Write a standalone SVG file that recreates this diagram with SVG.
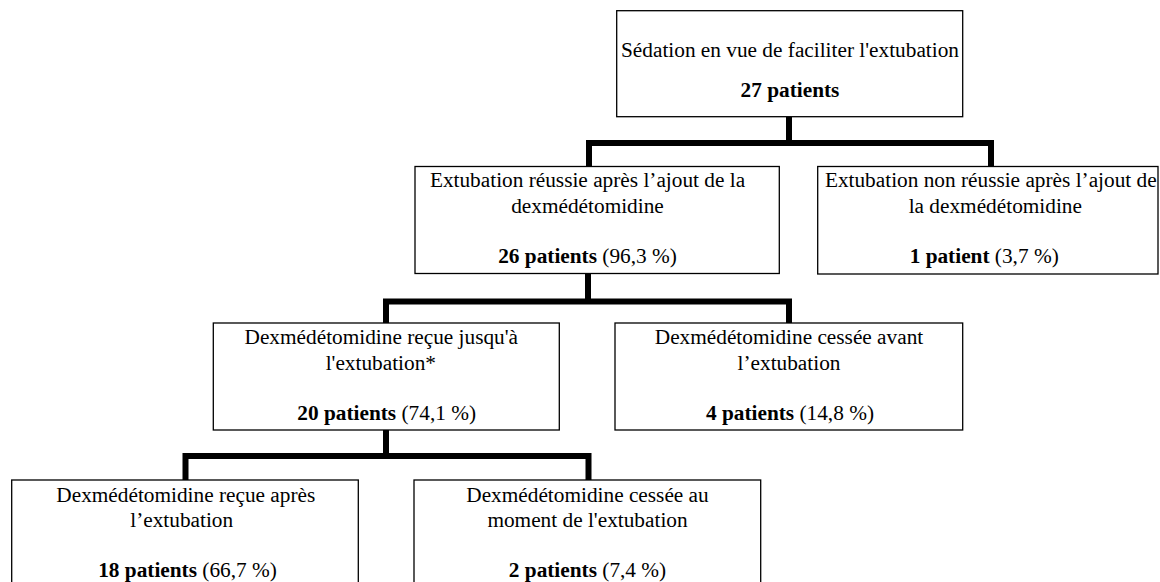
<svg xmlns="http://www.w3.org/2000/svg" width="1160" height="582" viewBox="0 0 1160 582">
<style>
.box{fill:#fff;stroke:#000;stroke-width:1.3}
.conn{fill:none;stroke:#000;stroke-width:6;stroke-linejoin:miter;stroke-linecap:butt}
text{font-family:"Liberation Serif","Times New Roman",serif;font-size:21.3px;fill:#000;text-anchor:middle}
.b{font-weight:bold}
</style>
<rect width="1160" height="582" fill="#fff"/>
<g id="connectors">
<path class="conn" d="M789,117 V143 M589,166 V143 H991 V166"/>
<path class="conn" d="M588,273 V301.5 M386,323 V301.5 H789 V323"/>
<path class="conn" d="M386,430 V456 M185.5,480 V456 H588.5 V480"/>
</g>
<g id="n1">
<rect class="box" x="616.7" y="10.7" width="346" height="106"/>
<text x="790" y="57.3">Sédation en vue de faciliter l'extubation</text>
<text x="790" y="96.7" class="b">27 patients</text>
</g>
<g id="n2">
<rect class="box" x="415" y="166.5" width="364.3" height="107"/>
<text x="587.5" y="187.3">Extubation réussie après l’ajout de la</text>
<text x="587.5" y="213.3">dexmédétomidine</text>
<text x="587.5" y="263.3"><tspan class="b">26 patients</tspan> (96,3 %)</text>
</g>
<g id="n3">
<rect class="box" x="817.7" y="166.5" width="340.3" height="107.5"/>
<text x="990.8" y="187.3">Extubation non réussie après l’ajout de</text>
<text x="995.3" y="213.3">la dexmédétomidine</text>
<text x="984.2" y="263.3"><tspan class="b">1 patient</tspan> (3,7 %)</text>
</g>
<g id="n4">
<rect class="box" x="213.3" y="323" width="346" height="107"/>
<text x="381.3" y="344">Dexmédétomidine reçue jusqu'à</text>
<text x="380.8" y="370">l'extubation*</text>
<text x="386.7" y="420"><tspan class="b">20 patients</tspan> (74,1 %)</text>
</g>
<g id="n5">
<rect class="box" x="615" y="323" width="347.7" height="107"/>
<text x="789" y="344">Dexmédétomidine cessée avant</text>
<text x="789" y="370">l’extubation</text>
<text x="790" y="420"><tspan class="b">4 patients</tspan> (14,8 %)</text>
</g>
<g id="n6">
<rect class="box" x="11.7" y="480" width="346.6" height="110"/>
<text x="185.8" y="501.5">Dexmédétomidine reçue après</text>
<text x="181.7" y="527">l’extubation</text>
<text x="187.5" y="577">
<tspan class="b">18 patients</tspan> (66,7 %)</text>
</g>
<g id="n7">
<rect class="box" x="414" y="480" width="346.7" height="110"/>
<text x="587.5" y="501.5">Dexmédétomidine cessée au</text>
<text x="587.5" y="527">moment de l'extubation</text>
<text x="587.5" y="577"><tspan class="b">2 patients</tspan> (7,4 %)</text>
</g>
</svg>
